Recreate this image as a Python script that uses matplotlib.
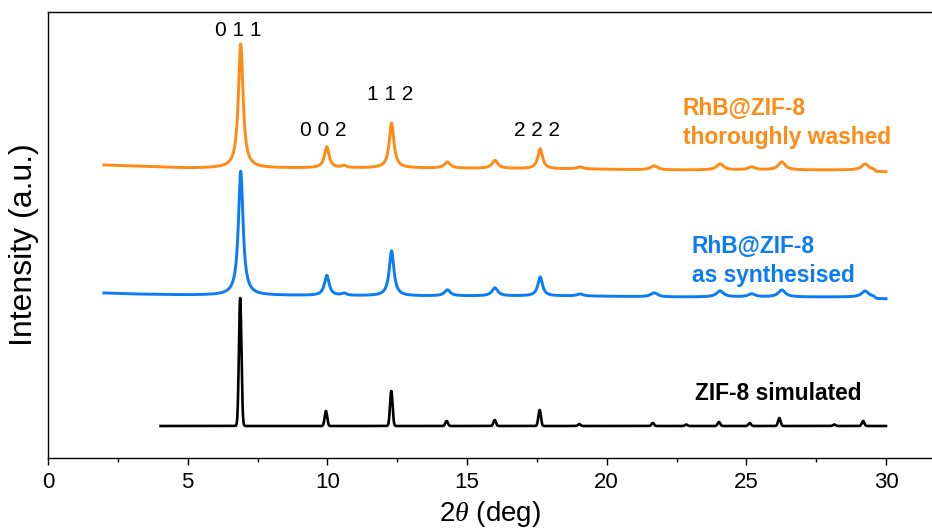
import numpy as np
import matplotlib
matplotlib.use("Agg")
import matplotlib.pyplot as plt

plt.rcParams['font.family'] = ['Liberation Sans', 'DejaVu Sans']
plt.rcParams['mathtext.fontset'] = 'custom'
plt.rcParams['mathtext.it'] = 'Liberation Serif:italic'

# peak tables: position (deg), height (a.u.), FWHM (deg)
washed_pos = [6.90, 9.98, 10.60, 12.30, 14.30, 16.00, 17.62, 19.05, 21.70, 24.06, 25.19, 26.27, 29.25]
washed_height = [124, 21, 2, 45, 6, 8, 20, 2, 4, 6, 3, 8, 6]
washed_fwhm = [0.20, 0.20, 0.20, 0.20, 0.25, 0.25, 0.20, 0.25, 0.30, 0.30, 0.30, 0.30, 0.30]
# baseline knots (deg, a.u.)
washed_bg_x = [2.0, 3.0, 5.0, 13.0, 19.0, 22.0, 29.55, 29.65, 30.0]
washed_bg_y = [293, 292, 290, 290, 289, 288, 288, 286, 286]

synth_pos = [6.90, 9.98, 10.60, 12.30, 14.30, 16.00, 17.62, 19.05, 21.70, 24.06, 25.19, 26.27, 29.25]
synth_height = [124, 20, 2, 45, 6, 8, 19, 2, 4, 6, 3, 7, 6]
synth_fwhm = [0.20, 0.20, 0.20, 0.20, 0.25, 0.25, 0.20, 0.25, 0.30, 0.30, 0.30, 0.30, 0.30]
synth_bg_x = [2.0, 3.0, 5.0, 13.0, 19.0, 22.0, 29.55, 29.65, 30.0]
synth_bg_y = [165, 164, 163, 162, 162, 161, 161, 159, 159]

sim_pos = [6.88, 9.95, 12.29, 14.27, 15.99, 17.60, 19.02, 21.65, 22.85, 24.02, 25.12, 26.18, 28.15, 29.18]
sim_height = [128, 15, 35, 5, 6, 16, 2, 3, 1.5, 4, 3, 8, 1.5, 5]
sim_start, sim_end, sim_base = 4.03, 30.0, 32

labels_hkl = ["0 1 1", "0 0 2", "1 1 2", "2 2 2"]
hkl_x = [6.82, 9.85, 12.25, 17.5]
hkl_y = [427, 328, 363, 328]

orange = '#ff8a14'
blue = '#0a7cf5'


def lorentz_pattern(x, pos, height, fwhm):
    y = np.zeros_like(x)
    for p, h, w in zip(pos, height, fwhm):
        y += h / (1 + ((x - p) / (w / 2)) ** 2)
    return y


def gauss_pattern(x, pos, height, sigma=0.045):
    y = np.zeros_like(x)
    for p, h in zip(pos, height):
        y += h * np.exp(-0.5 * ((x - p) / sigma) ** 2)
    return y


x_exp = np.arange(2.0, 30.0 + 1e-9, 0.01)
y_washed = np.interp(x_exp, washed_bg_x, washed_bg_y) + lorentz_pattern(x_exp, washed_pos, washed_height, washed_fwhm)
y_synth = np.interp(x_exp, synth_bg_x, synth_bg_y) + lorentz_pattern(x_exp, synth_pos, synth_height, synth_fwhm)

x_sim = np.arange(sim_start, sim_end + 1e-9, 0.005)
y_sim = sim_base + gauss_pattern(x_sim, sim_pos, sim_height)

fig = plt.figure(figsize=(9.32, 5.31), dpi=100)
ax = fig.add_axes([48 / 932, 1 - 458 / 531, 1 - 48 / 932, 446 / 531])

ax.plot(x_exp, y_washed, color=orange, lw=2.1)
ax.plot(x_exp, y_synth, color=blue, lw=2.1)
ax.plot(x_sim, y_sim, color='black', lw=1.9)

for t, xx, yy in zip(labels_hkl, hkl_x, hkl_y):
    ax.text(xx, yy, t, fontsize=15, ha='center', va='center')

ax.text(22.73, 335, "RhB@ZIF-8\nthoroughly washed", color=orange, fontsize=16.4,
        fontweight='bold', ha='left', va='center', linespacing=1.3)
ax.text(23.05, 197, "RhB@ZIF-8\nas synthesised", color=blue, fontsize=16.4,
        fontweight='bold', ha='left', va='center', linespacing=1.3)
ax.text(23.15, 64, "ZIF-8 simulated", color='black', fontsize=16.4,
        fontweight='bold', ha='left', va='center')

ax.set_xlim(0, 884 / (838 / 30))
ax.set_ylim(0, 446)
ax.set_xticks(np.arange(0, 31, 5))
ax.set_xticks(np.arange(2.5, 31, 5), minor=True)
ax.set_yticks([])
ax.tick_params(axis='x', which='major', length=5, width=1, labelsize=16, pad=5, direction='out')
ax.tick_params(axis='x', which='minor', length=3, width=1, direction='out')
ax.spines['right'].set_visible(False)
for s in ['left', 'bottom', 'top']:
    ax.spines[s].set_linewidth(1.0)

# axis titles placed in figure pixels
fig.text(490 / 932, 1 - 514 / 531, r"2$\it{\theta}$ (deg)", fontsize=20, ha='center', va='center')
fig.text(24 / 932, 1 - 245 / 531, "Intensity (a.u.)", fontsize=23, rotation=90, ha='center', va='center')

fig.savefig("out.png", dpi=100)
